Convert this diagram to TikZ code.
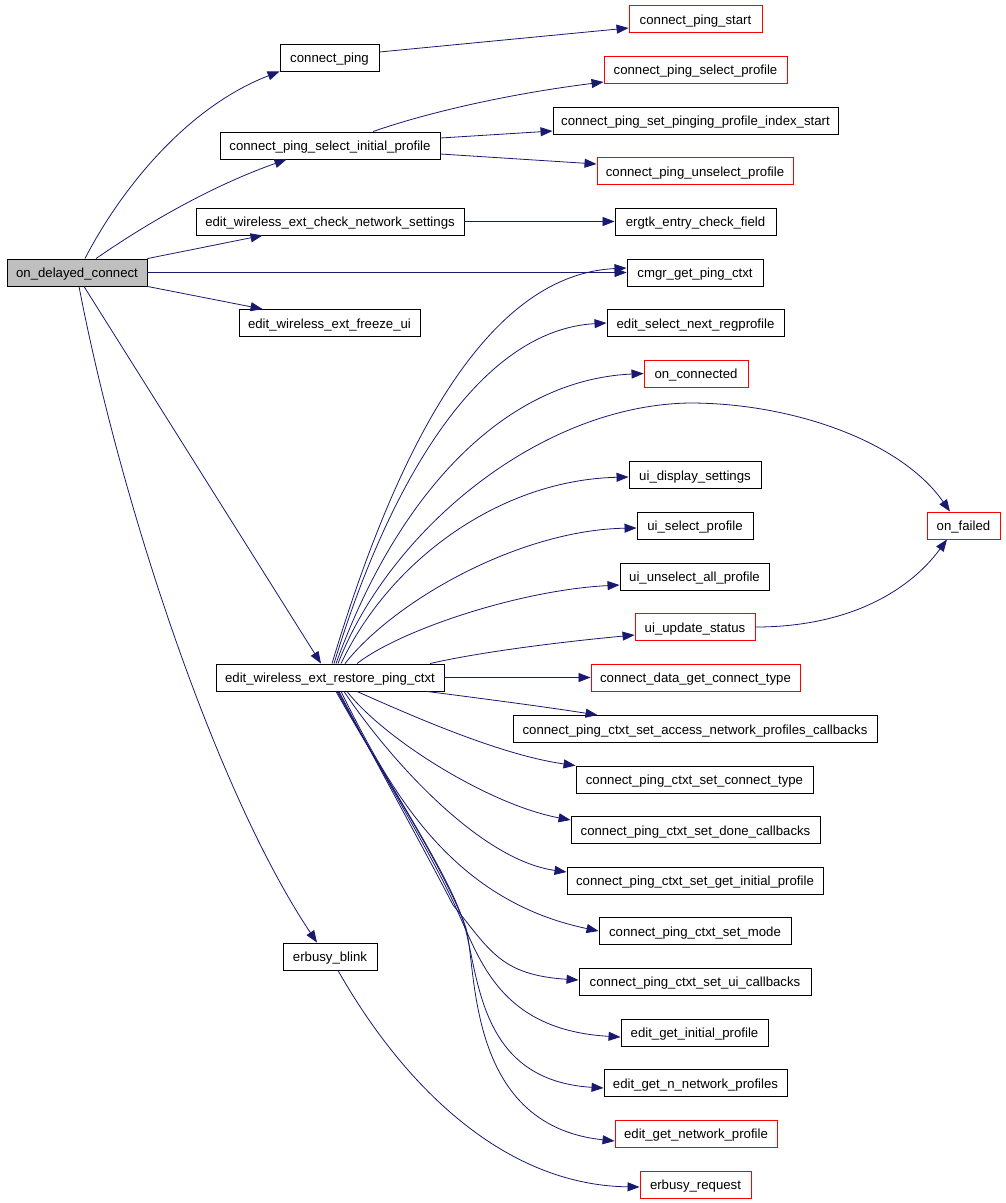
\documentclass[tikz,border=0pt]{standalone}
\usepackage{fontspec}
\setmainfont{Liberation Sans}
\usetikzlibrary{arrows.meta}
\definecolor{edgeblue}{HTML}{191970}
\definecolor{boxgray}{HTML}{BFBFBF}
\definecolor{boxred}{HTML}{FF0000}
\tikzset{
  fn/.style={draw=black, line width=0.9pt, rectangle, minimum height=27pt, inner sep=0pt, text height=12.5pt, text depth=2.5pt, font=\fontsize{13.2}{15}\selectfont},
  fnred/.style={fn, draw=boxred},
  fnroot/.style={fn, fill=boxgray},
  call/.style={draw=edgeblue, line width=0.8pt, -{Triangle[length=12pt,width=9pt]}, fill=none}
}
\begin{document}
\begin{tikzpicture}[x=1pt,y=-1pt]
\useasboundingbox (0,0) rectangle (1005,1203);
\fill[white] (0,0) rectangle (1005,1203);
% left column
\node[fnroot, minimum width=140pt] (odc) at (77,272.5) {on\_delayed\_connect};
\node[fn, minimum width=99pt] (cp) at (329.5,57.5) {connect\_ping};
\node[fn, minimum width=220pt] (cpsip) at (330,145.5) {connect\_ping\_select\_initial\_profile};
\node[fn, minimum width=268pt] (ewecns) at (330,221.5) {edit\_wireless\_ext\_check\_network\_settings};
\node[fn, minimum width=181pt] (ewefu) at (329.5,323) {edit\_wireless\_ext\_freeze\_ui};
\node[fn, minimum width=228pt] (ewerpc) at (330,677.5) {edit\_wireless\_ext\_restore\_ping\_ctxt};
\node[fn, minimum width=94pt] (eb) at (330,956.5) {erbusy\_blink};
% right column
\node[fnred, minimum width=133pt] (cps) at (695.5,19) {connect\_ping\_start};
\node[fnred, minimum width=183pt] (cpsp) at (695.5,69.5) {connect\_ping\_select\_profile};
\node[fn, minimum width=285pt] (cpsppis) at (695.5,120.5) {connect\_ping\_set\_pinging\_profile\_index\_start};
\node[fnred, minimum width=196pt] (cpup) at (695,171) {connect\_ping\_unselect\_profile};
\node[fn, minimum width=161pt] (gtk) at (695.5,221.5) {ergtk\_entry\_check\_field};
\node[fn, minimum width=136pt] (cmgr) at (695,272.5) {cmgr\_get\_ping\_ctxt};
\node[fn, minimum width=177pt] (esnr) at (695.5,323) {edit\_select\_next\_regprofile};
\node[fnred, minimum width=104pt] (oc) at (696,373.5) {on\_connected};
\node[fn, minimum width=132pt] (uids) at (695,475) {ui\_display\_settings};
\node[fn, minimum width=116pt] (uisp) at (695,525.5) {ui\_select\_profile};
\node[fn, minimum width=149pt] (uiuap) at (694.5,576.5) {ui\_unselect\_all\_profile};
\node[fnred, minimum width=120pt] (uius) at (695,627) {ui\_update\_status};
\node[fnred, minimum width=73pt] (of) at (963.5,525.5) {on\_failed};
\node[fnred, minimum width=209pt] (cdgct) at (695.5,677.5) {connect\_data\_get\_connect\_type};
\node[fn, minimum width=364pt] (anpc) at (695,729) {connect\_ping\_ctxt\_set\_access\_network\_profiles\_callbacks};
\node[fn, minimum width=237pt] (sct) at (694.5,779.5) {connect\_ping\_ctxt\_set\_connect\_type};
\node[fn, minimum width=249pt] (sdc) at (695.5,830) {connect\_ping\_ctxt\_set\_done\_callbacks};
\node[fn, minimum width=256pt] (sgip) at (695,880.5) {connect\_ping\_ctxt\_set\_get\_initial\_profile};
\node[fn, minimum width=192pt] (sm) at (695,931) {connect\_ping\_ctxt\_set\_mode};
\node[fn, minimum width=232pt] (suc) at (695,981.5) {connect\_ping\_ctxt\_set\_ui\_callbacks};
\node[fn, minimum width=147pt] (egip) at (694.5,1032.5) {edit\_get\_initial\_profile};
\node[fn, minimum width=183pt] (egnnp) at (695.5,1083) {edit\_get\_n\_network\_profiles};
\node[fnred, minimum width=162pt] (egnp) at (696,1133.5) {edit\_get\_network\_profile};
\node[fnred, minimum width=111pt] (ebr) at (695.5,1184.5) {erbusy\_request};
% edges from on_delayed_connect
\draw[call] ([xshift=8pt]odc.north) .. controls (115,200) and (180,110) .. (cp.south west);
\draw[call] ([xshift=19pt]odc.north) .. controls (130,235) and (200,190) .. ([xshift=67pt]cpsip.south west);
\draw[call] (odc.north east) -- ([xshift=67pt]ewecns.south west);
\draw[call] (odc.east) -- (cmgr.west);
\draw[call] (odc.south east) -- ([xshift=24pt]ewefu.north west);
\draw[call] ([xshift=7pt]odc.south) -- ([xshift=-9pt]ewerpc.north);
\draw[call] ([xshift=2pt]odc.south) .. controls (120,500) and (215,790) .. ([xshift=-13pt]eb.north);
% connect_ping
\draw[call] ([yshift=5.5pt]cp.east) -- ([yshift=-9pt]cps.west);
% connect_ping_select_initial_profile
\draw[call] ([xshift=43pt]cpsip.north) .. controls (420,115) and (500,95) .. ([yshift=-12.5pt]cpsp.west);
\draw[call] ([yshift=7.5pt]cpsip.east) -- ([yshift=-10.5pt]cpsppis.west);
\draw[call] ([yshift=-8.5pt]cpsip.east) -- ([yshift=7pt]cpup.west);
% check network settings
\draw[call] (ewecns.east) -- (gtk.west);
% restore ping ctxt: upward fan
\draw[call] ([xshift=2pt]ewerpc.north) .. controls (392,464) and (480,275) .. ([yshift=4.5pt]cmgr.west);
\draw[call] ([xshift=4pt]ewerpc.north) .. controls (390,480) and (480,330) .. (esnr.west);
\draw[call] ([xshift=6pt]ewerpc.north) .. controls (395,500) and (500,380) .. (oc.west);
\draw[call] ([xshift=8pt]ewerpc.north) .. controls (390,530) and (540,405) .. (690,403) .. controls (790,403) and (900,440) .. ([xshift=-13.5pt]of.north);
\draw[call] ([xshift=11pt]ewerpc.north) .. controls (390,560) and (500,480) .. ([yshift=-2pt]uids.west);
\draw[call] ([xshift=15pt]ewerpc.north) .. controls (395,600) and (520,530) .. ([yshift=-2.5pt]uisp.west);
\draw[call] ([xshift=27pt]ewerpc.north) .. controls (400,630) and (520,590) .. ([yshift=-8.5pt]uiuap.west);
\draw[call] ([xshift=100pt]ewerpc.north) .. controls (480,652) and (560,642) .. ([yshift=-8pt]uius.west);
\draw[call] (ewerpc.east) -- (cdgct.west);
% restore ping ctxt: downward fan
\draw[call] ([xshift=97pt]ewerpc.south) .. controls (470,697) and (540,706) .. ([xshift=85pt]anpc.north west);
\draw[call] ([xshift=27pt]ewerpc.south) .. controls (410,715) and (500,755) .. (sct.north west);
\draw[call] ([xshift=17pt]ewerpc.south) .. controls (385,740) and (490,805) .. ([yshift=10pt]sdc.west);
\draw[call] ([xshift=14pt]ewerpc.south) .. controls (390,760) and (480,860) .. ([yshift=8.5pt]sgip.west);
\draw[call] ([xshift=11pt]ewerpc.south) .. controls (390,790) and (450,900) .. (sm.west);
\draw[call] ([xshift=9pt]ewerpc.south) .. controls (380,770) and (430,860) .. (453,905) .. controls (490,950) and (500,975) .. ([yshift=1.5pt]suc.west);
\draw[call] ([xshift=8pt]ewerpc.south) .. controls (380,770) and (435,860) .. (457,910) .. controls (480,960) and (500,1030) .. ([yshift=-4.5pt]egip.west);
\draw[call] ([xshift=7pt]ewerpc.south) .. controls (380,770) and (440,860) .. (460,912) .. controls (480,960) and (470,1080) .. ([yshift=-5pt]egnnp.west);
\draw[call] ([xshift=6pt]ewerpc.south) .. controls (380,770) and (440,860) .. (465,925) .. controls (478,960) and (462,1125) .. ([yshift=-7.5pt]egnp.west);
% ui_update_status -> on_failed
\draw[call] (uius.east) .. controls (850,627) and (910,590) .. ([xshift=-16.5pt]of.south);
% erbusy_blink
\draw[call] ([xshift=8pt]eb.south) .. controls (400,1080) and (500,1185) .. ([yshift=-2.5pt]ebr.west);
\end{tikzpicture}
\end{document}
